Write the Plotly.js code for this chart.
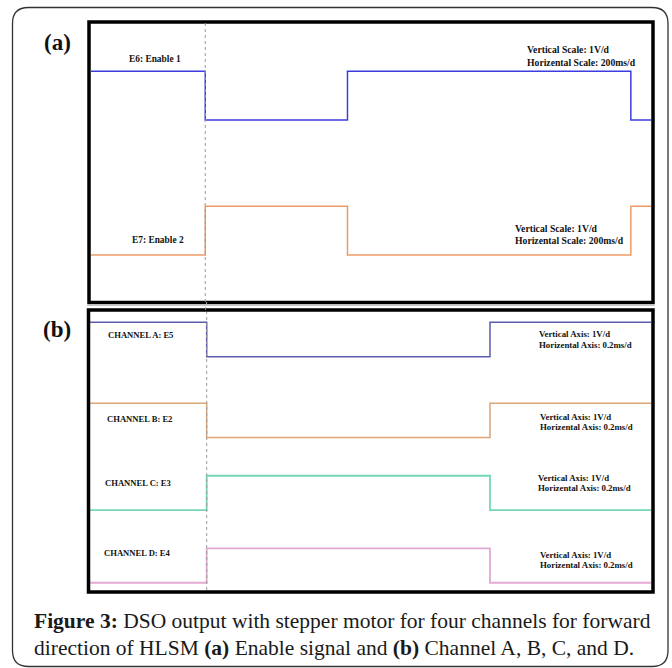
<!DOCTYPE html>
<html>
<head>
<meta charset="utf-8">
<script src="https://cdn.plot.ly/plotly-3.0.1.min.js"></script>
<style>html,body{margin:0;padding:0;background:#fff;}#chart{width:672px;height:668px;}</style>
</head>
<body>
<div id="chart"></div>
<script>
// ---- Panel (a): Enable signals (time in ms, level in divisions) ----
const enableTime = [-204, 0, 254, 760, 796];
const enable1 = [4.71, 3.71, 4.71, 3.71, 3.71];   // E6
const enable2 = [0.945, 1.945, 0.945, 1.945, 1.945]; // E7
const enableNames = ["E6: Enable 1", "E7: Enable 2"];
const enableScale = ["Vertical Scale: 1V/d", "Horizental Scale: 200ms/d"];

// ---- Panel (b): Channels (time in ms, level in divisions) ----
const chanTime = [-0.208, 0, 0.505, 0.792];
const chanA = [7.78, 6.78, 7.78, 7.78];
const chanB = [5.43, 4.43, 5.43, 5.43];
const chanC = [2.32, 3.32, 2.32, 2.32];
const chanD = [0.21, 1.21, 0.21, 0.21];
const chanNames = ["CHANNEL A: E5", "CHANNEL B: E2", "CHANNEL C: E3", "CHANNEL D: E4"];
const chanScale = ["Vertical Axis: 1V/d", "Horizental Axis: 0.2ms/d"];

const captionLines = [
  "<b>Figure 3:</b> DSO output with stepper motor for four channels for forward",
  "direction of HLSM <b>(a)</b> Enable signal and <b>(b)</b> Channel A, B, C, and D."
];

const W = 672, H = 668;
const px = x => x / W;
const py = y => 1 - y / H;

const serif = "'Liberation Serif', 'Times New Roman', serif";

function line(x, y, color, xa, ya, w) {
  return {x: x, y: y, type: 'scatter', mode: 'lines', line: {shape: 'hv', color: color, width: w || 1.5},
          xaxis: xa, yaxis: ya, hoverinfo: 'skip', showlegend: false};
}

const traces = [
  line(enableTime, enable1, '#3c3ce0', 'x', 'y', 1.5),
  line(enableTime, enable2, '#f09a66', 'x', 'y', 1.5),
  line(chanTime, chanA, '#5c5cae', 'x2', 'y2', 1.5),
  line(chanTime, chanB, '#dba578', 'x2', 'y2', 1.5),
  line(chanTime, chanC, '#74d8b4', 'x2', 'y2', 1.8),
  line(chanTime, chanD, '#e2aad2', 'x2', 'y2', 1.8)
];

const hidden = {showgrid: false, zeroline: false, showticklabels: false, ticks: '', showline: false, fixedrange: true};

function ann(text, x, y, size, anchor, opts) {
  return Object.assign({text: text, x: px(x), y: py(y), xref: 'paper', yref: 'paper', showarrow: false,
    xanchor: anchor || 'left', yanchor: 'middle',
    font: {family: serif, size: size, color: '#111', weight: 'bold'}}, opts || {});
}

const annotations = [
  ann("(a)", 57, 42, 23, 'center'),
  ann("(b)", 57, 329, 23, 'center'),
  ann(enableNames[0], 155, 59, 9.4, 'center'),
  ann(enableNames[1], 158, 240, 9.4, 'center'),
  ann(enableScale[0], 525, 49, 9.7, 'left'),
  ann(enableScale[1], 525, 62, 9.7, 'left'),
  ann(enableScale[0], 513, 228, 9.7, 'left'),
  ann(enableScale[1], 513, 241, 9.7, 'left'),
  ann(chanNames[0], 106, 334.5, 8.6, 'left'),
  ann(chanNames[1], 105, 419, 8.6, 'left'),
  ann(chanNames[2], 103, 483, 8.6, 'left'),
  ann(chanNames[3], 102, 553, 8.6, 'left'),
  ann(chanScale[0], 537, 334, 8.8, 'left'),
  ann(chanScale[1], 537, 344.5, 8.8, 'left'),
  ann(chanScale[0], 538, 416.5, 8.8, 'left'),
  ann(chanScale[1], 538, 426.5, 8.8, 'left'),
  ann(chanScale[0], 536, 477.5, 8.8, 'left'),
  ann(chanScale[1], 536, 487.5, 8.8, 'left'),
  ann(chanScale[0], 538, 554.5, 8.8, 'left'),
  ann(chanScale[1], 538, 564.5, 8.8, 'left'),
  ann(captionLines[0], 32, 621, 21.5, 'left', {font: {family: serif, size: 21.5, color: '#1a1a1a'}}),
  ann(captionLines[1], 32, 648, 21.5, 'left', {font: {family: serif, size: 21.5, color: '#1a1a1a'}})
];

// outer rounded frame path
function roundRect(x0, y0, x1, y1, r) {
  const P = (x, y) => px(x) + ',' + py(y);
  return 'M' + P(x0 + r, y0) + ' L' + P(x1 - r, y0) + ' Q' + P(x1, y0) + ' ' + P(x1, y0 + r) +
         ' L' + P(x1, y1 - r) + ' Q' + P(x1, y1) + ' ' + P(x1 - r, y1) +
         ' L' + P(x0 + r, y1) + ' Q' + P(x0, y1) + ' ' + P(x0, y1 - r) +
         ' L' + P(x0, y0 + r) + ' Q' + P(x0, y0) + ' ' + P(x0 + r, y0) + ' Z';
}

const shapes = [
  {type: 'path', xref: 'paper', yref: 'paper', path: roundRect(12.5, 7.5, 668, 666.5, 16), line: {color: '#333', width: 1.3}},
  // panel frames
  {type: 'rect', xref: 'paper', yref: 'paper', x0: px(89), x1: px(653), y0: py(302.5), y1: py(22), line: {color: '#000', width: 3.5}},
  {type: 'rect', xref: 'paper', yref: 'paper', x0: px(88.5), x1: px(653), y0: py(592), y1: py(310), line: {color: '#000', width: 3.5}},
  {type: 'line', xref: 'paper', yref: 'paper', x0: px(87), x1: px(655), y0: py(305.5), y1: py(305.5), line: {color: '#c8c8c8', width: 1}},
  // trigger dashed lines
  {type: 'line', xref: 'x', yref: 'paper', x0: 0, x1: 0, y0: py(302), y1: py(23), line: {color: '#9a9a9a', width: 1, dash: 'dot'}},
  {type: 'line', xref: 'x2', yref: 'paper', x0: 0, x1: 0, y0: py(590), y1: py(312), line: {color: '#9a9a9a', width: 1, dash: 'dot'}},
  {type: 'line', xref: 'paper', yref: 'paper', x0: px(205.3), x1: px(206.7), y0: py(310), y1: py(302), line: {color: '#9a9a9a', width: 1, dash: 'dot'}}
];

const layout = {
  width: W, height: H,
  margin: {l: 0, r: 0, t: 0, b: 0},
  paper_bgcolor: '#fff', plot_bgcolor: 'rgba(0,0,0,0)',
  showlegend: false,
  xaxis: Object.assign({domain: [px(91), px(651)], range: [-204, 796], anchor: 'y'}, hidden),
  yaxis: Object.assign({domain: [py(301), py(23.5)], range: [0, 5.69], anchor: 'x'}, hidden),
  xaxis2: Object.assign({domain: [px(90), px(651)], range: [-0.208, 0.792], anchor: 'y2'}, hidden),
  yaxis2: Object.assign({domain: [py(590), py(312)], range: [0, 8.08], anchor: 'x2'}, hidden),
  annotations: annotations,
  shapes: shapes
};

Plotly.newPlot('chart', traces, layout, {staticPlot: true, displayModeBar: false});
</script>
</body>
</html>
